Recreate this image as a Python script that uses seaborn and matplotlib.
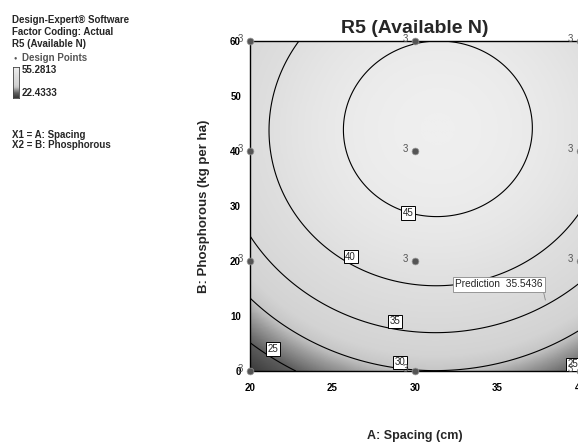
import numpy as np
import pandas as pd
import matplotlib
matplotlib.use("Agg")
import matplotlib.pyplot as plt
import seaborn as sns
from matplotlib.colors import LinearSegmentedColormap

# design points (A: spacing, B: phosphorous) and the response read at each
spacing = [20, 30, 40]
phosphorous = [0, 20, 40, 60]
available_n = [
    [21.2, 33.2, 38.1, 36.0],   # spacing 20
    [30.0, 42.0, 46.9, 44.8],   # spacing 30
    [24.4, 37.0, 42.0, 39.9],   # spacing 40
]
replicates = 3

contour_levels = [25, 30, 35, 40, 45]
x_ticks = [20, 25, 30, 35, 40]
y_ticks = [0, 10, 20, 30, 40, 50, 60]

# where Design-Expert put the contour value flags
label_spots = {25: [(21.4, 4.0), (39.6, 1.2)], 30: [(29.1, 1.6)],
               35: [(28.8, 9.0)], 40: [(26.1, 20.8)], 45: [(29.6, 28.7)]}

prediction_point = (37.9, 12.9)
prediction_value = 35.5436
legend_high = "55.2813"
legend_low = "22.4333"


def fit_quadratic(xs, ys, zs):
    """Least squares fit of a full quadratic model, like Design-Expert does."""
    X = np.column_stack([np.ones_like(xs), xs, ys, xs ** 2, ys ** 2, xs * ys])
    coef, *_ = np.linalg.lstsq(X, zs, rcond=None)
    return coef


def predict(coef, x, y):
    return (coef[0] + coef[1] * x + coef[2] * y + coef[3] * x ** 2
            + coef[4] * y ** 2 + coef[5] * x * y)


sns.set_style("white")
plt.rcParams['font.family'] = ['Liberation Sans', 'DejaVu Sans']

pts = pd.DataFrame(
    [(s, p, available_n[i][j]) for i, s in enumerate(spacing)
     for j, p in enumerate(phosphorous)],
    columns=["spacing", "phosphorous", "available_n"])

coef = fit_quadratic(pts["spacing"].to_numpy(float),
                     pts["phosphorous"].to_numpy(float),
                     pts["available_n"].to_numpy(float))

gx, gy = np.meshgrid(np.linspace(20, 40, 300), np.linspace(0, 60, 300))
gz = predict(coef, gx, gy)

# grey shading: dark at low response, nearly white at the peak
vmin, vmax = 21.0, 47.3
stops = [(21.0, "#383838"), (25.0, "#5e5e5e"), (28.0, "#9a9a9a"),
         (30.0, "#c6c6c6"), (32.0, "#d3d3d3"), (40.0, "#dfdfdf"),
         (47.3, "#efefef")]
cmap = LinearSegmentedColormap.from_list(
    "greys_de", [((v - vmin) / (vmax - vmin), c) for v, c in stops])

fig = plt.figure(figsize=(5.78, 4.45), dpi=100)
ax = fig.add_axes([250 / 578, 74 / 445, 330 / 578, 330 / 445])

ax.imshow(gz, extent=(20, 40, 0, 60), origin="lower", aspect="auto",
          cmap=cmap, vmin=vmin, vmax=vmax, interpolation="bilinear")
cs = ax.contour(gx, gy, gz, levels=contour_levels, colors="black",
                linewidths=0.8)
for level, spots in label_spots.items():
    for sx, sy in spots:
        ax.text(sx, sy, f"{level:d}", fontsize=7, ha="center", va="center",
                zorder=5, clip_on=False,
                bbox=dict(facecolor="white", edgecolor="black", pad=1.2,
                          linewidth=0.7))

sns.scatterplot(data=pts, x="spacing", y="phosphorous", ax=ax,
                color="#555555", s=24, edgecolor="#999999", linewidth=0.5,
                clip_on=False, zorder=6, legend=False)
for _, r in pts.iterrows():
    ax.annotate(str(replicates), (r["spacing"], r["phosphorous"]),
                xytext=(-7, 1.5), textcoords="offset points", ha="center",
                va="center", fontsize=7, color="#555555",
                annotation_clip=False, zorder=7)

ax.annotate(f"Prediction  {prediction_value}", xy=prediction_point,
            xytext=(prediction_point[0] - 0.15, prediction_point[1] + 2.0),
            ha="right", va="bottom", fontsize=7.3,
            bbox=dict(boxstyle="square,pad=0.25", fc="white", ec="#888888",
                      lw=0.6),
            arrowprops=dict(arrowstyle="-", color="#888888", lw=0.6,
                            relpos=(1, 0), shrinkA=0, shrinkB=0),
            zorder=8)

ax.set_xlim(20, 40)
ax.set_ylim(0, 60)
ax.set_xticks(x_ticks)
ax.set_yticks(y_ticks)
ax.tick_params(axis="both", direction="out", length=4.5, width=0.8,
               labelsize=7, colors="black")
ax.tick_params(axis="x", pad=4)
ax.tick_params(axis="y", pad=2)
for lab in ax.get_xticklabels() + ax.get_yticklabels():
    lab.set_fontweight("bold")
for sp in ax.spines.values():
    sp.set_color("black")
    sp.set_linewidth(1.0)

ax.set_xlabel("A: Spacing (cm)", fontsize=9, fontweight="bold")
ax.set_ylabel("B: Phosphorous (kg per ha)", fontsize=9.5, fontweight="bold")
ax.xaxis.set_label_coords(0.5, -0.178)
ax.yaxis.set_label_coords(-0.122, 0.5)
ax.set_title("R5 (Available N)", fontsize=14, fontweight="bold", pad=6)


# Design-Expert style legend block on the left
def ftext(xp, yp, s, size=7, **kw):
    fig.text(xp / 578, 1 - yp / 445, s, va="center", ha="left",
             fontsize=size, fontweight="bold", **kw)


ftext(12, 20, "Design-Expert\u00ae Software")
ftext(12, 32, "Factor Coding: Actual")
ftext(12, 44, "R5 (Available N)")
ftext(13, 58, "\u25cf", size=4, color="#555555")
ftext(22, 58, "Design Points", color="#555555")
ftext(22, 70, legend_high)
ftext(22, 93, legend_low)
ftext(12, 135, "X1 = A: Spacing")
ftext(12, 145, "X2 = B: Phosphorous")

cax = fig.add_axes([13 / 578, 1 - 98 / 445, 6 / 578, 31 / 445])
cax.imshow(np.linspace(vmax, vmin, 50)[:, None], aspect="auto", cmap=cmap,
           vmin=vmin, vmax=vmax)
cax.set_xticks([])
cax.set_yticks([])
for sp in cax.spines.values():
    sp.set_color("#444444")
    sp.set_linewidth(0.6)

fig.savefig("out.png", dpi=100)
